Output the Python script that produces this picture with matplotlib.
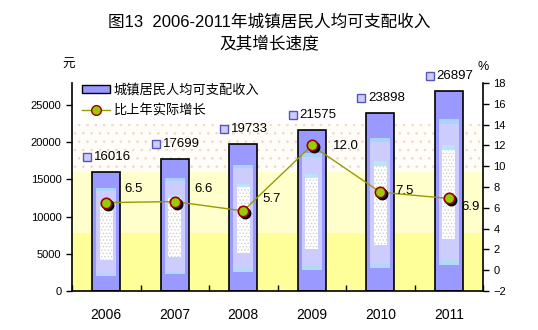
import numpy as np
import matplotlib
matplotlib.use("Agg")
import matplotlib.pyplot as plt
from matplotlib.patches import Patch
from matplotlib.lines import Line2D
from matplotlib.transforms import offset_copy

plt.rcParams['font.family'] = ['Liberation Sans', 'Noto Sans CJK SC']
plt.rcParams['hatch.linewidth'] = 0.6

# data
years = ['2006', '2007', '2008', '2009', '2010', '2011']
income = [16016, 17699, 19733, 21575, 23898, 26897]
growth = [6.5, 6.6, 5.7, 12.0, 7.5, 6.9]
growth_labels = ['6.5', '6.6', '5.7', '12.0', '7.5', '6.9']

# label offsets (pixels) for the growth values
gl_off = [(18, 14), (20, 13), (19, 12), (21, -1), (15, 1), (13, -9)]

fig = plt.figure(figsize=(5.38, 3.3), dpi=100)
ax = fig.add_axes([72/538, 1-291/330, 411/538, 208/330])
ax2 = ax.twinx()

x = np.arange(len(years))
inc = np.array(income, dtype=float)

# background bands
ax.axhspan(0, 7800, color='#FFFF99', lw=0, zorder=0)
ax.axhspan(7800, 16000, color='#FFFFCC', lw=0, zorder=0)
ax.axhspan(16000, 22400, facecolor='#FFFDF8', edgecolor='#F6D4CC', hatch='..', lw=0, zorder=0)

# bars, built from nested layers
ax.bar(x, inc, width=0.415, color='#9999FF', edgecolor='black', lw=1.2, zorder=2)
ax.bar(x, inc*0.73, bottom=inc*0.13, width=0.29, color='#CCCCFF', lw=0, zorder=3)
ax.bar(x, inc*0.025, bottom=inc*0.835, width=0.29, color='#A8D4F8', lw=0, zorder=3)
ax.bar(x, inc*0.025, bottom=inc*0.13, width=0.29, color='#B4D8F4', lw=0, zorder=3)
ax.bar(x, inc*0.47, bottom=inc*0.26, width=0.19, facecolor='white', edgecolor='#CFCFCF',
       hatch='.....', lw=0, zorder=4)
ax.bar(x, inc*0.025, bottom=inc*0.705, width=0.19, color='#B8E4F8', lw=0, zorder=5)

# bar value labels with small key squares
for xi, v in zip(x, income):
    ax.plot([xi], [v], marker='s', ms=6, mfc='#CCCCFF', mec='#5555BB', mew=1,
            transform=offset_copy(ax.transData, fig, x=-19, y=15, units='dots'),
            clip_on=False, zorder=6)
    ax.annotate(str(v), (xi, v), xytext=(-12, 15), textcoords='offset pixels',
                ha='left', va='center', fontsize=9.5, zorder=6, annotation_clip=False)

ax.set_xlim(-0.5, 5.5)
ax.set_ylim(0, 27950)
ax.set_yticks(np.arange(0, 25001, 5000))
ax.set_xticks(x)
ax.set_xticklabels(years, fontsize=10)
ax.set_xticks(np.arange(-0.5, 5.6, 1), minor=True)
ax.tick_params(axis='x', which='major', length=0, pad=12)
ax.tick_params(axis='x', which='minor', direction='in', length=4, width=1)
ax.tick_params(axis='y', labelsize=8, length=4, width=1, direction='out')
for s in ['top', 'right']:
    ax.spines[s].set_visible(False)
for s in ['left', 'bottom']:
    ax.spines[s].set_linewidth(1.2)

# growth line
ax2.plot(x, growth, color='#999900', lw=1, zorder=3)
ax2.plot(x, growth, ls='none', marker='o', ms=7.5, mfc='black', mec='black',
         transform=offset_copy(ax2.transData, fig, x=2, y=-2, units='dots'), zorder=4)
ax2.plot(x, growth, ls='none', marker='o', ms=7.5, mfc='#99CC00', mec='#990000', mew=1.2, zorder=5)
for xi, g, lab, off in zip(x, growth, growth_labels, gl_off):
    ax2.annotate(lab, (xi, g), xytext=off, textcoords='offset pixels',
                 ha='left', va='center', fontsize=9.5, zorder=6)

ax2.set_ylim(-2, 18)
ax2.set_yticks(np.arange(-2, 19, 2))
ax2.tick_params(axis='y', labelsize=8, length=4, width=1, direction='out')
for s in ['top', 'left', 'bottom']:
    ax2.spines[s].set_visible(False)
ax2.spines['right'].set_linewidth(1.2)

# legend
h1 = Patch(facecolor='#9999FF', edgecolor='black', lw=1)
h2 = Line2D([], [], color='#999900', lw=1, marker='o', ms=7, mfc='#99CC00', mec='#990000')
leg = ax2.legend([h1, h2], ['城镇居民人均可支配收入', '比上年实际增长'],
                 loc='upper left', bbox_to_anchor=(0.025, 0.995), frameon=False,
                 fontsize=9.5, handlelength=2.1, handleheight=0.6, borderpad=0,
                 borderaxespad=0, labelspacing=0.55, handletextpad=0.3)
leg.set_zorder(10)

fig.text(0.5, 1-22/330, '图13  2006-2011年城镇居民人均可支配收入', ha='center', va='center', fontsize=12)
fig.text(0.5, 1-43/330, '及其增长速度', ha='center', va='center', fontsize=12)
fig.text(69/538, 1-65/330, '元', ha='center', va='center', fontsize=9)
fig.text(483/538, 1-67/330, '%', ha='center', va='center', fontsize=9)

fig.savefig('out.png', dpi=100)
